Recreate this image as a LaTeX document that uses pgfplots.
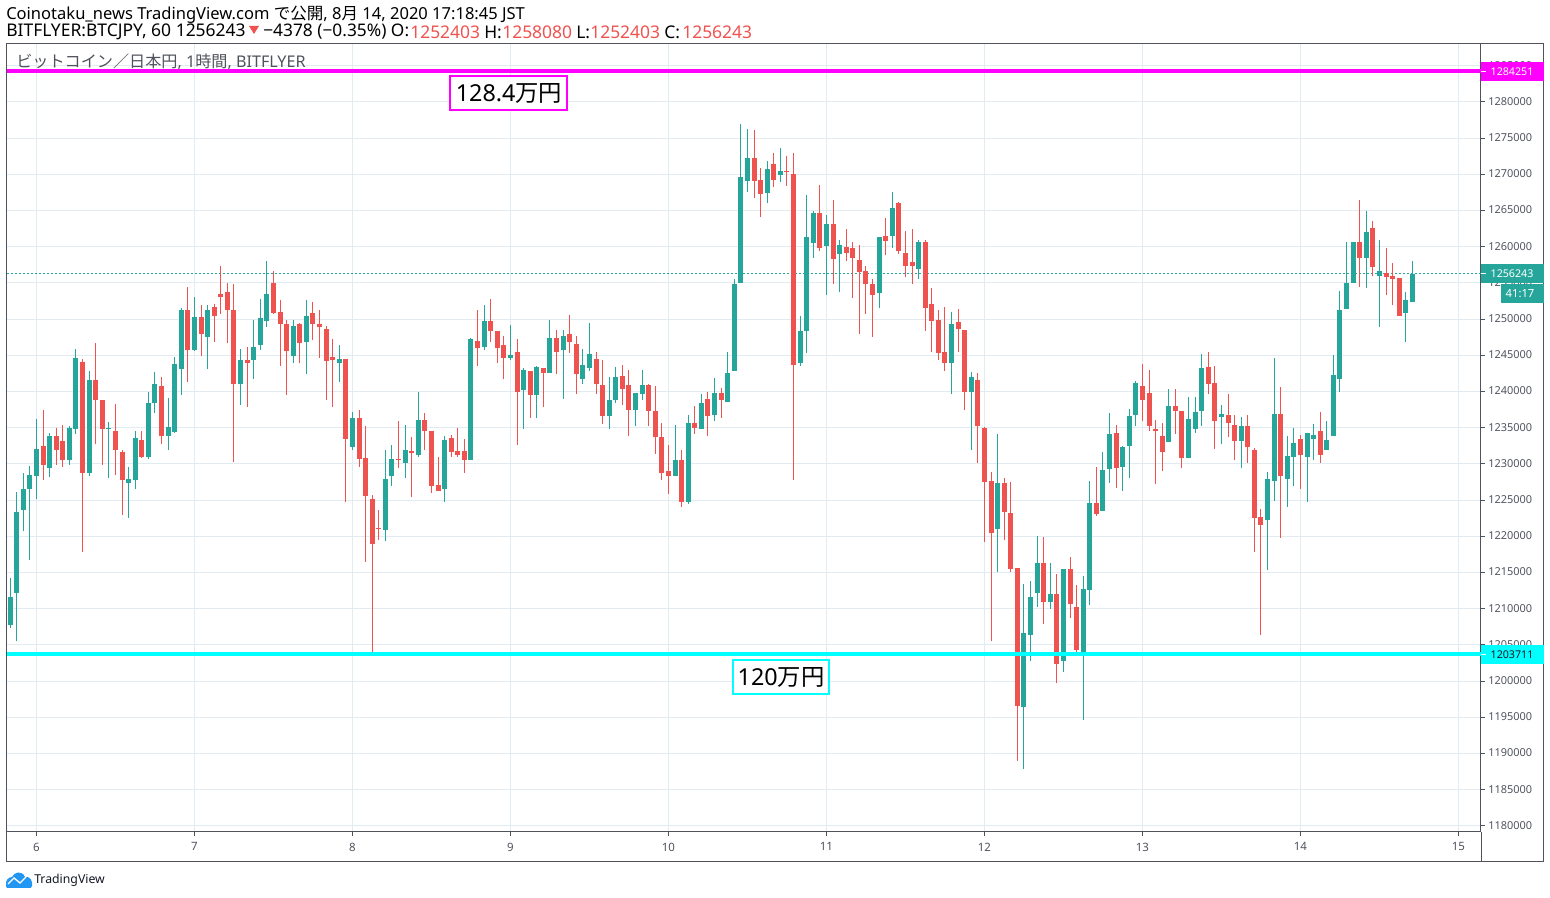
\documentclass[border=0pt]{standalone}
\usepackage{pgfplots}
\usepackage{pgfplotstable}
\usepackage{fontspec}
\pgfplotsset{compat=1.18}
\setmainfont{Noto Sans}
\newfontfamily\cjk{Noto Sans CJK JP}
\definecolor{tvgreen}{HTML}{26A69A}
\definecolor{tvred}{HTML}{EF5350}
\definecolor{tvgrid}{HTML}{E1ECF2}
\definecolor{tvaxis}{HTML}{50535E}
\definecolor{tvblue}{HTML}{2196F3}
\definecolor{tvink}{HTML}{131722}
\newcommand{\fs}[1]{\fontsize{#1}{#1}\selectfont}
% x = hours from 6 Aug 00:00; low, high, body bottom, body top (yen)
\pgfplotstableread{
x low high bot top
-4 1207400 1214200 1207800 1211600
-3 1205500 1226100 1212200 1223400
-2 1220700 1228800 1223700 1226600
-1 1216800 1229700 1226600 1228500
0 1225100 1236200 1228400 1232100
2 1228200 1234300 1229500 1233900
5 1229900 1235300 1230500 1235000
6 1234100 1245900 1234900 1244700
8 1228400 1242900 1228800 1241600
11 1228100 1235800 1234800 1235000
14 1222600 1229600 1227400 1227900
15 1226600 1234600 1227800 1233600
17 1230700 1240000 1230900 1238400
18 1237100 1242700 1238400 1241100
20 1231900 1239100 1233800 1235100
21 1234300 1244800 1234400 1243800
22 1239500 1251600 1243100 1251200
24 1245600 1253100 1245800 1250300
26 1243100 1252000 1247500 1251200
31 1238100 1245900 1241000 1244300
33 1241800 1249900 1244300 1246200
34 1245800 1252800 1246500 1250200
35 1248900 1258000 1249700 1253500
39 1243900 1249900 1244900 1249000
41 1242400 1252700 1246800 1250500
46 1241300 1246500 1244000 1244500
48 1231900 1237200 1232400 1236400
53 1219400 1232000 1220900 1227900
54 1227000 1232600 1228300 1230700
56 1228100 1235400 1230200 1232000
58 1231000 1240000 1231200 1236100
62 1224800 1233900 1226500 1233300
66 1230500 1247400 1230500 1247200
68 1245800 1252000 1246200 1249700
72 1244300 1249200 1244700 1245100
74 1234900 1243200 1240200 1243000
76 1236400 1243600 1239500 1243400
78 1242600 1249900 1242600 1247400
80 1239000 1248500 1245700 1247700
83 1241100 1245900 1241700 1243700
84 1242900 1249500 1243300 1245200
87 1234900 1242000 1236600 1238900
88 1238400 1243400 1238800 1242000
91 1235200 1239800 1237400 1239800
92 1238800 1243000 1239600 1240900
97 1228400 1235400 1228400 1230600
99 1224500 1236800 1224800 1235700
101 1234900 1239600 1234900 1238400
103 1235900 1241900 1236700 1239800
105 1238500 1245400 1238500 1242500
106 1242900 1255600 1242900 1254800
107 1255000 1277000 1255000 1269600
108 1267500 1276200 1269100 1272300
111 1266000 1271800 1267400 1270800
113 1268900 1273600 1269900 1270500
116 1243500 1250500 1243900 1248400
117 1245300 1267200 1248300 1261300
118 1258400 1265000 1260500 1264600
120 1253400 1264400 1260100 1263200
122 1253700 1261000 1259000 1260300
128 1251600 1261300 1253600 1261300
130 1259900 1267500 1261500 1265400
134 1255500 1261000 1257000 1260700
139 1239700 1251000 1243900 1249400
142 1231900 1242700 1239900 1242000
146 1215100 1234100 1221000 1227400
150 1187900 1213400 1196400 1206600
151 1202800 1213800 1206400 1211600
152 1210300 1220000 1212200 1216300
154 1210000 1216300 1211000 1212000
156 1201300 1215500 1202800 1215500
159 1194600 1214500 1203800 1212700
160 1210500 1227600 1212600 1224600
162 1223500 1231700 1223500 1229200
163 1227400 1237000 1229300 1234100
165 1226300 1232500 1229600 1232300
166 1228000 1237600 1232500 1236600
167 1235200 1241500 1236800 1241200
172 1233000 1240400 1233000 1238000
175 1230800 1239300 1230800 1236200
176 1234300 1239300 1234900 1237200
177 1235200 1245200 1237300 1243200
180 1232800 1238200 1236500 1236900
183 1229400 1236500 1233200 1235300
187 1215400 1228900 1222200 1227900
188 1224900 1244700 1227700 1236900
190 1224100 1233800 1227900 1231100
191 1226900 1235000 1231000 1232900
193 1224800 1234300 1230900 1234300
194 1230500 1235500 1233400 1234000
196 1231900 1236000 1231900 1233300
197 1233800 1245000 1233800 1242300
198 1239900 1253900 1241700 1251300
199 1251400 1260600 1251400 1255000
200 1255000 1260600 1255000 1260600
202 1254300 1265000 1258400 1262100
204 1248900 1261000 1255900 1256600
208 1246900 1253700 1250900 1252700
209 1252403 1258080 1252403 1256243
}\greencandles
\pgfplotstableread{
x low high bot top
1 1227800 1237500 1229900 1232500
3 1229900 1235000 1231900 1233900
4 1229600 1235400 1230500 1233200
7 1217900 1244500 1228800 1244100
9 1232700 1246700 1238900 1241600
10 1229900 1238900 1234800 1238900
12 1228500 1238300 1231900 1234600
13 1222900 1232000 1227800 1231700
16 1230800 1234600 1231000 1233300
19 1232800 1242000 1233800 1240800
23 1241300 1254400 1245800 1251200
25 1244900 1251900 1248000 1250300
27 1246900 1252100 1250500 1251700
28 1250700 1257300 1253000 1253500
29 1246700 1255000 1251200 1253700
30 1230300 1254800 1241000 1251300
32 1237900 1246100 1244000 1244300
36 1250700 1256700 1250900 1255000
37 1243600 1252700 1249400 1251000
38 1239500 1249900 1245600 1249400
40 1243900 1249500 1246700 1249400
42 1247100 1252400 1249400 1250900
43 1244700 1251200 1248900 1249400
44 1238900 1249000 1244200 1248700
45 1237900 1247300 1244300 1244800
47 1224800 1244500 1233500 1244500
49 1229600 1237500 1230700 1236400
50 1216500 1235300 1225600 1230800
51 1204000 1225700 1219000 1225200
52 1219500 1223600 1221000 1221200
55 1229500 1236000 1230600 1230700
57 1225400 1233700 1231500 1231800
59 1232000 1237100 1234500 1236100
60 1226000 1234600 1227000 1234600
61 1226200 1231000 1226200 1227100
63 1231000 1234000 1231700 1233600
64 1230900 1235000 1231200 1231800
65 1228800 1233500 1230500 1231800
67 1243600 1251300 1246000 1247000
69 1246900 1252800 1248300 1249700
70 1243900 1248400 1246000 1248300
71 1241700 1247700 1244600 1246500
73 1232600 1247200 1240000 1245500
75 1236400 1242900 1239500 1242900
77 1237900 1243200 1242600 1243200
79 1242400 1248500 1245400 1247400
81 1245300 1250600 1246900 1247900
82 1239600 1247700 1242400 1246600
85 1239700 1245400 1241000 1244500
86 1235500 1244400 1236600 1240900
89 1238200 1243700 1240300 1242200
90 1233800 1243000 1237500 1240900
93 1235200 1241100 1237300 1240900
94 1231400 1240800 1233700 1237300
95 1227800 1235700 1228700 1233700
96 1225800 1232600 1228400 1229000
98 1224000 1232000 1224800 1230600
100 1234100 1238000 1235000 1235700
102 1233900 1240000 1236600 1239000
104 1236400 1240500 1238800 1239800
109 1266800 1276100 1269100 1272300
110 1264100 1270900 1267300 1269200
112 1268200 1272900 1269200 1271500
114 1268400 1272500 1270400 1270500
115 1227800 1273000 1243700 1270000
119 1259400 1268500 1259900 1264600
121 1254800 1266400 1258300 1263200
123 1258100 1262400 1259200 1260000
124 1252900 1260700 1258400 1259900
125 1247900 1260300 1256500 1258200
126 1250700 1257300 1254800 1256600
127 1247600 1255600 1253300 1254900
129 1258800 1264000 1260800 1261500
131 1259000 1266200 1259400 1266000
132 1255800 1262200 1257400 1259100
133 1254900 1262400 1257300 1257900
135 1248400 1260900 1251600 1260700
136 1245500 1254300 1249800 1252100
137 1244400 1251300 1245300 1249900
138 1242900 1251700 1244000 1245400
140 1245500 1251400 1248600 1249600
141 1237400 1248500 1239900 1248500
143 1230200 1242600 1235300 1241600
144 1219200 1235100 1227500 1235000
145 1205600 1228900 1220400 1227600
147 1219500 1228100 1223400 1227400
148 1215100 1227500 1215500 1223200
149 1189000 1215700 1196600 1215700
153 1207900 1219900 1211000 1216300
155 1199700 1214800 1202400 1212100
157 1208700 1217100 1210700 1215500
158 1204000 1213300 1204300 1210200
161 1222800 1229600 1223100 1224600
164 1226700 1235400 1229500 1234300
168 1236000 1243800 1238800 1240800
169 1234500 1243000 1235300 1239800
170 1227200 1236100 1234500 1234900
171 1229100 1235700 1231600 1233900
173 1234200 1240400 1237300 1238000
174 1229400 1237300 1230800 1237300
178 1239600 1245400 1241100 1243400
179 1232100 1243600 1235900 1241200
181 1233700 1239700 1235700 1236700
182 1230500 1236800 1233200 1235400
184 1230200 1236700 1232300 1235300
185 1217900 1232200 1222600 1232000
186 1206400 1223800 1221600 1222700
189 1219800 1240700 1228300 1236900
192 1226500 1234000 1231200 1233500
195 1230200 1237200 1231300 1234600
201 1254500 1266500 1258400 1260600
203 1255900 1263600 1257200 1262600
205 1253400 1259800 1255800 1256400
206 1251900 1257700 1255600 1255900
207 1250500 1255700 1250500 1255700
}\redcandles
\begin{document}
\begin{tikzpicture}
\useasboundingbox (0,0) rectangle (1162.5pt,673.5pt);
\begin{axis}[
  at={(4.875pt,49.5pt)}, anchor=south west,
  width=1105.875pt, height=591pt, scale only axis,
  xmin=-4.557, xmax=219.42, ymin=1179171, ymax=1288011,
  axis line style={tvaxis,line width=0.75pt},
  xmajorgrids, ymajorgrids,
  grid style={tvgrid,line width=0.75pt},
  major tick style={tvaxis,line width=0.75pt},
  major tick length=3pt, tick align=outside,
  xtick={0,24,48,72,96,120,144,168,192,216},
  xticklabels={6,7,8,9,10,11,12,13,14,15},
  xtick pos=bottom, ytick pos=right, yticklabel pos=right,
  ytick={1180000,1185000,1190000,1195000,1200000,1205000,1210000,1215000,1220000,1225000,1230000,1235000,1240000,1245000,1250000,1255000,1260000,1265000,1270000,1275000,1280000,1285000},
  scaled y ticks=false,
  /pgf/number format/assume math mode=true,
  /pgf/number format/fixed,
  /pgf/number format/1000 sep={},
  yticklabel style={font=\fs{8.2pt},color=tvaxis,xshift=-1pt,yshift=0.4pt},
  xticklabel style={font=\fs{8.6pt},color=tvaxis,yshift=-1.5pt},
  clip=true,
]
\addplot[tvgreen,line width=0.75pt,dash pattern=on 1.5pt off 1.5pt,forget plot] coordinates {(-4.557,1256243) (219.42,1256243)};
\addplot[draw=none,forget plot,error bars/.cd,y dir=plus,y explicit,error mark=none,error bar style={tvgreen,line width=0.75pt}]
  table[x=x,y=low,y error plus expr=\thisrow{high}-\thisrow{low}] {\greencandles};
\addplot[draw=none,forget plot,error bars/.cd,y dir=plus,y explicit,error mark=none,error bar style={tvgreen,line width=3.75pt}]
  table[x=x,y=bot,y error plus expr=\thisrow{top}-\thisrow{bot}] {\greencandles};
\addplot[draw=none,forget plot,error bars/.cd,y dir=plus,y explicit,error mark=none,error bar style={tvred,line width=0.75pt}]
  table[x=x,y=low,y error plus expr=\thisrow{high}-\thisrow{low}] {\redcandles};
\addplot[draw=none,forget plot,error bars/.cd,y dir=plus,y explicit,error mark=none,error bar style={tvred,line width=3.75pt}]
  table[x=x,y=bot,y error plus expr=\thisrow{top}-\thisrow{bot}] {\redcandles};
\addplot[color={rgb,255:red,255;green,0;blue,255},line width=3pt,forget plot] coordinates {(-4.557,1284251) (219.42,1284251)};
\addplot[color={rgb,255:red,0;green,255;blue,255},line width=3pt,forget plot] coordinates {(-4.557,1203711) (219.42,1203711)};
\end{axis}
\begin{scope}[x=0.75pt,y=-0.75pt,yshift=673.5pt]
  % frame
  \draw[tvaxis,line width=0.75pt] (6.5,832) -- (6.5,861.5) -- (1543.5,861.5) -- (1543.5,44) -- (1481,44);
  \draw[tvaxis,line width=0.75pt] (1481,832) -- (1481,861.5);
  % header
  \node[anchor=west,inner sep=0,text=black,font=\fs{12.4pt}] at (6,15) {Coinotaku\_news TradingView.com {\cjk で公開}, 8{\cjk 月} 14, 2020 17:18:45 JST};
  \node[anchor=west,inner sep=0,text=black,font=\fs{13.1pt}] at (6,32) {BITFLYER:BTCJPY, 60 1256243};
  \fill[tvred] (249,26) -- (259,26) -- (254,34) -- cycle;
  \node[anchor=west,inner sep=0,text=black,font=\fs{13pt}] at (263,32) {−4378 (−0.35\%) O:};
  \node[anchor=west,inner sep=0,text=tvred,font=\fs{13.1pt}] at (410,32) {1252403};
  \node[anchor=west,inner sep=0,text=black,font=\fs{13.1pt}] at (484,32) {H:};
  \node[anchor=west,inner sep=0,text=tvred,font=\fs{13.1pt}] at (502,32) {1258080};
  \node[anchor=west,inner sep=0,text=black,font=\fs{13.1pt}] at (576,32) {L:};
  \node[anchor=west,inner sep=0,text=tvred,font=\fs{13.1pt}] at (590,32) {1252403};
  \node[anchor=west,inner sep=0,text=black,font=\fs{13.1pt}] at (664,32) {C:};
  \node[anchor=west,inner sep=0,text=tvred,font=\fs{13.1pt}] at (682,32) {1256243};
  % series title
  \node[anchor=west,inner sep=0,text=tvaxis,font=\fs{12.1pt}] at (16,62) {{\cjk ビットコイン／日本円}, 1{\cjk 時間}, BITFLYER};
  % callouts
  \draw[color={rgb,255:red,255;green,0;blue,255},line width=1.5pt,fill=white] (450,76) rectangle (567,110);
  \node[inner sep=0,text=black,font=\fs{17.5pt}] at (509,93) {128.4{\cjk 万円}};
  \draw[color={rgb,255:red,0;green,255;blue,255},line width=1.5pt,fill=white] (733,660) rectangle (829,694);
  \node[inner sep=0,text=black,font=\fs{17.5pt}] at (781,677) {120{\cjk 万円}};
  % price labels
  \fill[color={rgb,255:red,255;green,0;blue,255}] (1481,62) rectangle (1543.5,81);
  \draw[white,line width=0.75pt] (1481,71.5) -- (1486,71.5);
  \node[inner sep=0,text=white,font=\bfseries\fs{8pt}] at (1512,71.5) {1284251};
  \fill[tvgreen] (1481,264) rectangle (1543.5,283);
  \draw[white,line width=0.75pt] (1481,273.5) -- (1486,273.5);
  \node[inner sep=0,text=white,font=\bfseries\fs{8pt}] at (1512,273.5) {1256243};
  \fill[tvgreen] (1501,284) rectangle (1543.5,303);
  \node[inner sep=0,text=white,font=\bfseries\fs{8.4pt}] at (1520,293.5) {41:17};
  \fill[color={rgb,255:red,0;green,255;blue,255}] (1481,645) rectangle (1543.5,664);
  \draw[white,line width=0.75pt] (1481,654.5) -- (1486,654.5);
  \node[inner sep=0,text=tvink,font=\bfseries\fs{8pt}] at (1512,654.5) {1203711};
  % logo
  \fill[tvblue] (6,886) .. controls (5,880) and (9,877) .. (12,877) .. controls (14,872) and (22,870) .. (25,877) .. controls (30,876) and (33,881) .. (32,886) .. controls (32,888) and (30,888) .. (29,888) -- (9,888) .. controls (7,888) and (6,888) .. (6,886) -- cycle;
  \draw[white,line width=1pt] (8,884) -- (14,878) -- (20,883) -- (26,877);
  \node[anchor=west,inner sep=0,text=tvink,font=\fs{9.2pt}] at (34,880) {TradingView};
\end{scope}
\end{tikzpicture}
\end{document}
